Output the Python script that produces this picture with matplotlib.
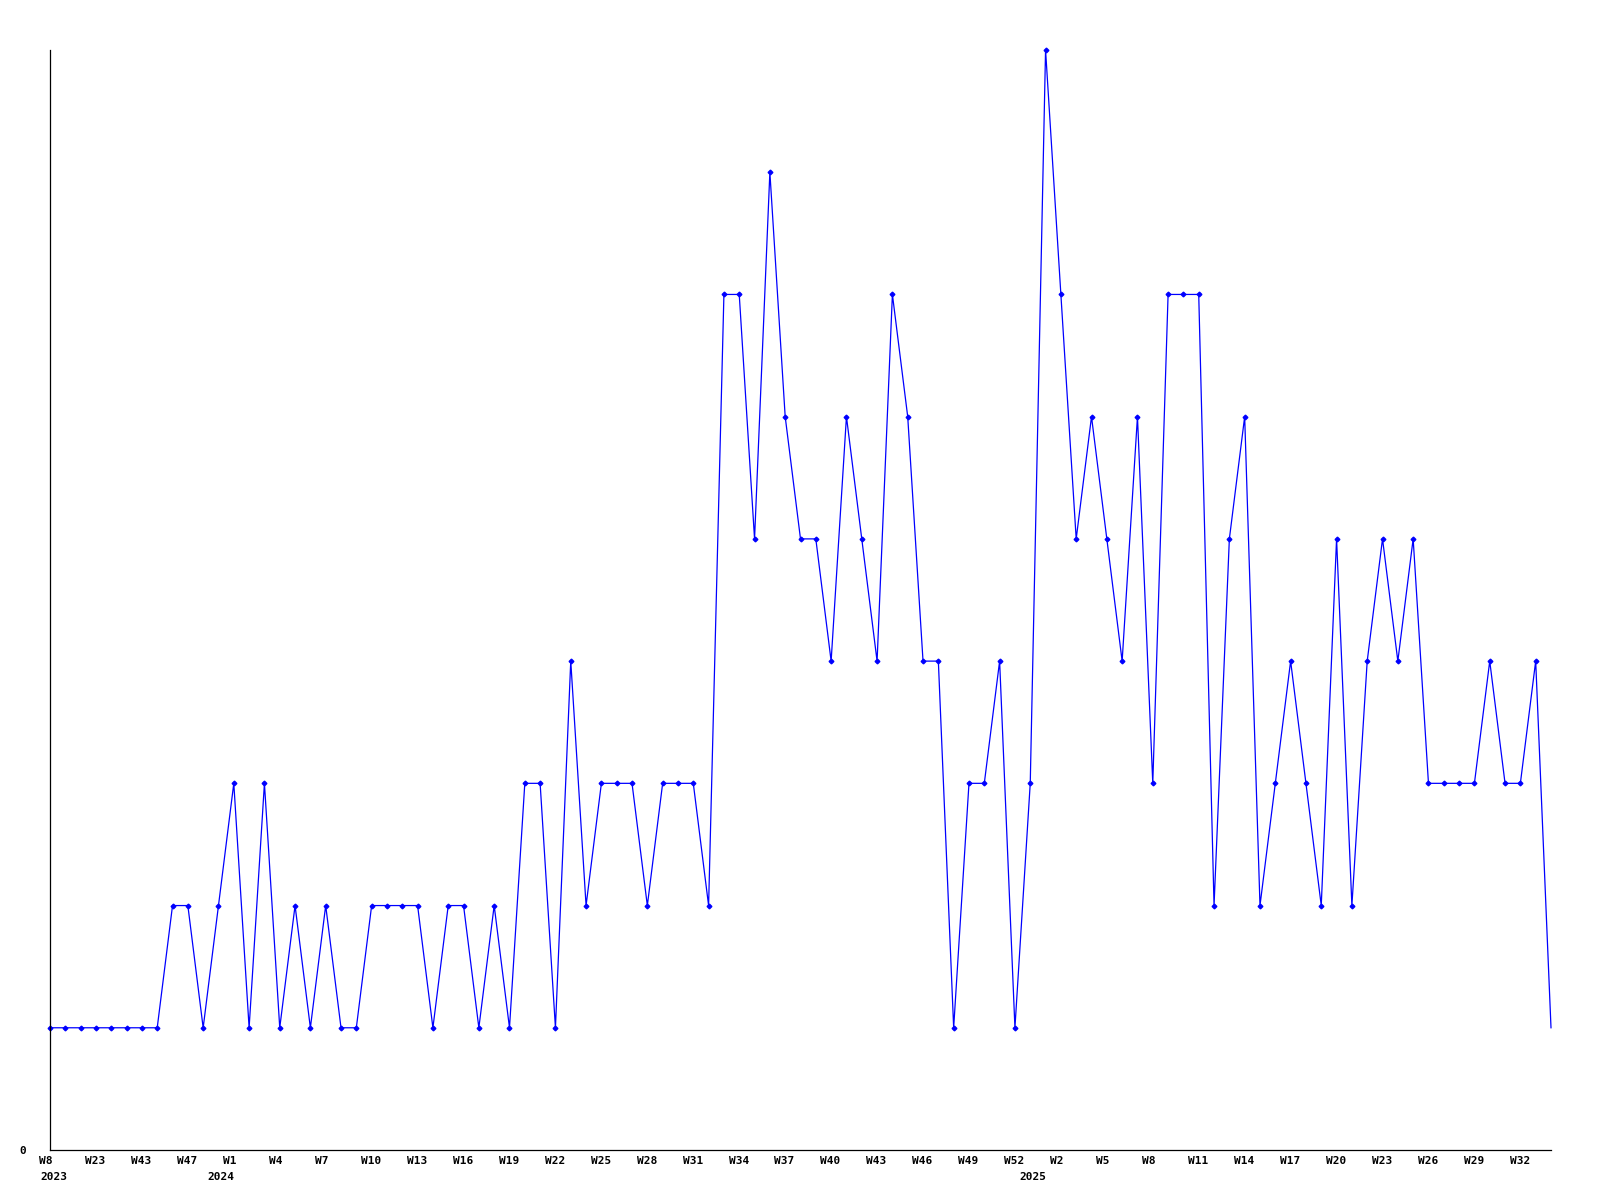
import matplotlib
matplotlib.use("Agg")
import matplotlib.pyplot as plt
import matplotlib.transforms as mtransforms

# ---- data -------------------------------------------------------------
values = [
    1, 1, 1, 1, 1, 1, 1, 1, 2, 2,
    1, 2, 3, 1, 3, 1, 2, 1, 2, 1,
    1, 2, 2, 2, 2, 1, 2, 2, 1, 2,
    1, 3, 3, 1, 4, 2, 3, 3, 3, 2,
    3, 3, 3, 2, 7, 7, 5, 8, 6, 5,
    5, 4, 6, 5, 4, 7, 6, 4, 4, 1,
    3, 3, 4, 1, 3, 9, 7, 5, 6, 5,
    4, 6, 3, 7, 7, 7, 2, 5, 6, 2,
    3, 4, 3, 2, 5, 2, 4, 5, 4, 5,
    3, 3, 3, 3, 4, 3, 3, 4, 1,
]

tick_labels = [
    "W8", "W23", "W43", "W47", "W1", "W4", "W7", "W10", "W13", "W16", "W19",
    "W22", "W25", "W28", "W31", "W34", "W37", "W40", "W43", "W46", "W49",
    "W52", "W2", "W5", "W8", "W11", "W14", "W17", "W20", "W23", "W26",
    "W29", "W32",
]
tick_step = 3

year_labels = ["2023", "2024", "2025"]
year_start_index = [0, 12, 65]

# ---- figure -----------------------------------------------------------
DPI = 100
fig = plt.figure(figsize=(16, 12), dpi=DPI)
ax = fig.add_axes([50 / 1600, 50 / 1200, 1501 / 1600, 1100 / 1200])

x = list(range(len(values)))
ax.plot(x, values, color="#0000ff", lw=0.9, marker="D", ms=2.4,
        markevery=list(range(len(values) - 1)), mec="#0000ff", mfc="#0000ff",
        clip_on=False)

ax.set_xlim(0, len(values) - 1)
ax.set_ylim(0, 9)

for s in ["top", "right"]:
    ax.spines[s].set_visible(False)
for s in ["left", "bottom"]:
    ax.spines[s].set_linewidth(0.9)
    ax.spines[s].set_color("black")

font = dict(family="DejaVu Sans Mono", weight="bold", size=8)

ticks = list(range(0, len(values), tick_step))
ax.set_xticks(ticks)
ax.set_xticklabels(tick_labels, ha="left", **font)
ax.tick_params(axis="x", length=0, pad=4.5)
offset = mtransforms.ScaledTranslation(-10.7 / DPI, 0, fig.dpi_scale_trans)
for lbl in ax.get_xticklabels():
    lbl.set_transform(lbl.get_transform() + offset)

ax.set_yticks([0])
ax.set_yticklabels(["0"], **font)
ax.tick_params(axis="y", length=0, pad=17)

for txt, idx in zip(year_labels, year_start_index):
    dx_px = -10 if idx == 0 else -26
    ax.annotate(txt, xy=(idx, 0), xycoords=("data", "axes fraction"),
                xytext=(dx_px * 72 / DPI, -22 * 72 / DPI), textcoords="offset points",
                ha="left", va="top", annotation_clip=False, **font)

fig.savefig("out.png", dpi=DPI, facecolor="white")
